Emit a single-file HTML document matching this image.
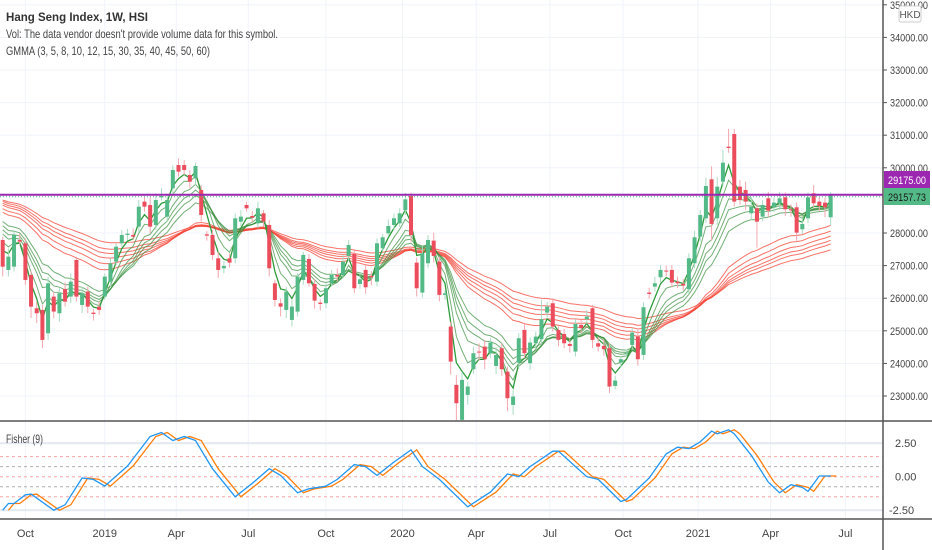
<!DOCTYPE html>
<html><head><meta charset="utf-8"><style>
html,body{margin:0;padding:0;background:#fff;}
svg{display:block;font-family:"Liberation Sans",sans-serif;}
</style></head><body>
<svg id="chart" width="932" height="550" viewBox="0 0 932 550" xmlns="http://www.w3.org/2000/svg">
<defs>
<clipPath id="mainClip"><rect x="0" y="0" width="883" height="421"/></clipPath>
<clipPath id="fishClip"><rect x="0" y="422" width="883" height="97"/></clipPath>
</defs>
<g id="grid"></g>
<g id="ema" clip-path="url(#mainClip)"></g>
<g id="candles" clip-path="url(#mainClip)"></g>
<g id="fisher" clip-path="url(#fishClip)"></g>
<g id="axes"></g>
<g>
<text x="6" y="21" font-size="12" fill="#333" font-weight="bold" textLength="142" lengthAdjust="spacingAndGlyphs">Hang Seng Index, 1W, HSI</text>
<text x="6" y="38" font-size="12" fill="#444" textLength="272" lengthAdjust="spacingAndGlyphs">Vol: The data vendor doesn't provide volume data for this symbol.</text>
<text x="6" y="55" font-size="12" fill="#444" textLength="204" lengthAdjust="spacingAndGlyphs">GMMA (3, 5, 8, 10, 12, 15, 30, 35, 40, 45, 50, 60)</text>
<text x="6" y="443" font-size="12" fill="#444" textLength="37" lengthAdjust="spacingAndGlyphs">Fisher (9)</text>
</g>
</svg>
<script>
const opens=[27786,26866,26968,27786,27684,26713,25691,25640,24924,26049,25538,26284,26049,27173,25793,26202,25558,25742,26049,26508,27122,27684,27940,27940,28195,28961,28859,28246,29094,28502,29370,30085,30085,29779,29677,29319,27960,27940,27224,26917,27224,27224,28348,28859,28522,28297,28604,28246,26457,25844,25640,25333,25589,26560,27204,26437,25865,25845,26458,26713,26713,27296,27357,26437,26866,26683,26509,27531,27991,28246,28297,28706,29135,27091,26172,27071,27766,27122,26100,25129,23341,22268,23034,23821,24363,24516,24312,23923,24465,23750,22727,24026,25027,24005,24618,24741,25558,25845,25027,24904,24598,24363,25181,25354,25692,24618,24537,24465,23310,24026,24312,24567,24823,24261,26172,26356,26642,26847,26867,26509,26438,26274,27072,27889,28451,29647,28451,29575,30648,31037,29422,29320,28604,28758,28502,29064,28788,28911,29095,28727,28788,28114,28451,29218,28962,28931,28482];
const closes=[26968,27275,27940,27735,26560,25742,25538,24720,26457,25589,26151,25895,26508,26049,26151,25742,25517,25640,26662,27070,27582,27940,27980,27888,28808,28808,28195,29012,29135,29012,29932,29881,29932,29574,30055,28553,27919,27326,26866,26989,27091,28450,28502,28757,28471,28757,28348,26917,25946,25742,26202,25742,26662,27327,26458,25926,25824,26305,26713,26662,27122,27633,26305,26580,26335,26642,27684,27868,28216,28451,28604,29033,27940,26305,27378,27786,27296,26100,26151,24056,22779,23494,23290,24312,24332,24127,24639,24261,23821,22932,22983,24772,24312,24639,24823,25354,25742,25129,24721,24618,24536,25211,25079,25436,24721,24516,24435,23290,23474,24128,24333,24946,24128,25723,26131,26458,26867,26816,26479,26458,26387,27225,27869,28553,29442,28277,29422,30158,30607,28963,29013,28962,28809,28349,28860,28686,28931,29064,28727,28700,28012,28277,29095,28911,28829,28788,29157.73];
const wickUp=[100,250,150,200,150,120,200,150,200,150,150,200,250,100,200,150,120,150,100,150,100,150,150,200,200,150,250,200,250,150,150,200,150,150,100,150,100,150,200,150,150,150,200,100,150,200,100,150,100,150,150,200,100,100,150,150,100,150,150,200,200,150,150,200,150,150,150,100,200,150,150,200,100,150,250,150,250,150,100,150,300,250,150,200,250,200,150,250,150,150,200,150,200,150,150,600,150,150,100,150,150,150,150,200,100,200,200,150,150,100,100,150,200,150,150,200,150,150,150,150,150,150,200,150,250,400,300,400,550,150,200,250,300,150,150,200,150,200,150,150,150,150,150,250,150,150,100];
const wickDn=[300,200,150,100,150,350,300,250,200,200,250,150,200,150,250,200,200,150,100,150,100,100,150,100,150,150,200,150,100,150,150,150,150,200,200,200,150,150,250,150,150,150,150,100,150,150,150,250,200,300,250,200,150,150,100,250,200,150,100,150,100,150,150,150,200,250,150,100,100,150,100,150,200,250,150,150,200,200,150,400,1600,600,300,150,250,300,150,250,200,400,300,200,150,200,150,150,150,150,200,150,200,150,150,150,250,150,200,200,100,150,150,150,200,150,150,150,150,150,150,150,150,150,150,150,150,500,200,150,150,150,150,250,200,800,150,200,150,200,200,200,250,150,150,150,150,300,250];
const fastPeriods=[3,5,8,10,12,15];
const slowPeriods=[30,35,40,45,50,60];
const fastSeeds=[27950,28100,28250,28350,28450,28550];
const slowSeeds=[28750,28850,28950,29000,29050,29080];
const fisherWeek=[0,1,2,4,5,9,11,14,16,18,22,26,28,30,32,34,37,41,44,47,49,52,54,57,59,62,64,66,69,72,74,77,82,86,89,91,93,97,98,101,103,105,109,110,114,117,119,121,123,125,126,128,129,132,135,137,139,141,142,144,146];
const fisherVal=[-2.5,-2.0,-2.0,-1.35,-1.3,-2.5,-2.1,-0.1,-0.2,-0.7,0.8,3.0,3.3,2.7,3.0,2.7,0.6,-1.5,-0.5,0.6,0.1,-1.2,-0.9,-0.7,-0.2,0.9,0.75,0.1,1.1,2.0,0.75,-0.2,-2.25,-1.15,0.2,0,0.75,1.9,1.9,0.75,0,-0.2,-1.85,-1.7,-0.1,1.7,2.2,2.1,2.6,3.4,3.2,3.5,3.2,1.6,-0.4,-1.2,-0.6,-0.8,-1.1,0.05,0.05];
const priceTicks=[35000,34000,33000,32000,31000,30000,28000,27000,26000,25000,24000,23000];
const fisherTicks=[2.5,0,-2.5];
const timeLabels=["Oct","2019","Apr","Jul","Oct","2020","Apr","Jul","Oct","2021","Apr","Jul"];
const timeWeeks=[4,18,30.6,43.3,57,70.5,83.5,96.5,109.4,122.6,135.4,148.6];
const lastPrice=29157.73, hLine=29175;

const NS="http://www.w3.org/2000/svg";
function xOf(i){return 2.7+i*5.671;}
function yOf(p){return 233-(p-28000)*0.0326;}
function fy(v){return 476.7-v*13.4;}
function mk(tag,attrs,parent){const e=document.createElementNS(NS,tag);for(const k in attrs)e.setAttribute(k,attrs[k]);parent.appendChild(e);return e;}
const grid=document.getElementById('grid'),axes=document.getElementById('axes');
priceTicks.forEach(p=>{const l=mk('line',{x1:0,x2:883,y1:yOf(p),y2:yOf(p),stroke:'#f0f3fa','stroke-width':1},grid);

});
timeWeeks.forEach(w=>{const l=mk('line',{x1:xOf(w),x2:xOf(w),y1:0,y2:519,stroke:'#f0f3fa','stroke-width':1},grid);

});
const emaG=document.getElementById('ema');
function drawEma(n,seed,color,w){let e=seed,pts=[];for(let i=0;i<closes.length;i++){e=e+(closes[i]-e)*2/(n+1);pts.push(xOf(i).toFixed(1)+','+yOf(e).toFixed(1));}
const pl=mk('polyline',{points:pts.join(' '),fill:'none',stroke:color,'stroke-width':w},emaG);

}
slowPeriods.forEach((n,k)=>drawEma(n,slowSeeds[k],'rgba(244,67,54,0.75)',1));
fastPeriods.forEach((n,k)=>drawEma(n,fastSeeds[k],k==0?'#2e9c3a':'rgba(56,142,60,0.7)',k==0?1.3:1));
const cg=document.getElementById('candles');
for(let i=0;i<closes.length;i++){const o=opens[i],c=closes[i],up=c>=o;const x=xOf(i);
const hi=Math.max(o,c)+wickUp[i],lo=Math.min(o,c)-wickDn[i];
const col=up?'#53b987':'#eb4d5c',wc=up?'#a9dcc3':'#f5a6ae';
const wl=mk('line',{x1:x,x2:x,y1:yOf(hi),y2:yOf(lo),stroke:wc,'stroke-width':1},cg);


const top=yOf(Math.max(o,c)),h=Math.max(1,yOf(Math.min(o,c))-top);
const r=mk('rect',{x:x-2,y:top,width:4,height:h,fill:col},cg);

}
const hl=mk('line',{x1:0,x2:883,y1:yOf(hLine),y2:yOf(hLine),stroke:'#9c27b0','stroke-width':2},axes);


const pl2=mk('line',{x1:0,x2:883,y1:yOf(lastPrice)+1.5,y2:yOf(lastPrice)+1.5,stroke:'#53b987','stroke-width':1,'stroke-dasharray':'1,2'},axes);


const fg=document.getElementById('fisher');
[[1.5,'#f8a5a5'],[0.75,'#b0b0b0'],[0,'#f8a5a5'],[-0.75,'#b0b0b0'],[-1.5,'#f8a5a5']].forEach(a=>{const l=mk('line',{x1:0,x2:883,y1:fy(a[0]),y2:fy(a[0]),stroke:a[1],'stroke-dasharray':'3,3','stroke-width':1},fg);

});
[2.5,-2.5].forEach(v=>{const l=mk('line',{x1:0,x2:883,y1:fy(v),y2:fy(v),stroke:'#e3e9f1','stroke-width':2},fg);

});
const trig=fisherWeek.map((w,k)=>(xOf(w+1)).toFixed(1)+','+fy(fisherVal[k]).toFixed(1));
const fo=mk('polyline',{points:trig.join(' '),fill:'none',stroke:'#ff7f0e','stroke-width':1.3},fg);


const fpts=fisherWeek.map((w,k)=>xOf(w).toFixed(1)+','+fy(fisherVal[k]).toFixed(1));
const fb=mk('polyline',{points:fpts.join(' '),fill:'none',stroke:'#2196f3','stroke-width':1.3},fg);


[[0,421,932,421],[0,519,932,519],[883,0,883,550]].forEach(a=>{const l=mk('line',{x1:a[0],y1:a[1],x2:a[2],y2:a[3],stroke:'#555','stroke-width':1.5},axes);

});
priceTicks.forEach(p=>{const y=yOf(p);
const tk=mk('line',{x1:883,x2:887,y1:y,y2:y,stroke:'#555'},axes);


const t=mk('text',{x:890,y:y+4,'font-size':11,fill:'#444',textLength:38,lengthAdjust:'spacingAndGlyphs'},axes);t.textContent=p.toFixed(2);

});
fisherTicks.forEach(v=>{const y=fy(v);
const t=mk('text',{x:v<0?889:895,y:y+4,'font-size':11,fill:'#444'},axes);t.textContent=v.toFixed(2);

});
timeLabels.forEach((s,k)=>{const t=mk('text',{x:xOf(timeWeeks[k]),y:537,'font-size':11,fill:'#444','text-anchor':'middle'},axes);t.textContent=s;

});
const b1=mk('rect',{x:884,y:171,width:46,height:17,fill:'#9c27b0'},axes);


const t1=mk('text',{x:888,y:184,'font-size':11,fill:'#fff',textLength:38,lengthAdjust:'spacingAndGlyphs'},axes);t1.textContent=hLine.toFixed(2);


const b2=mk('rect',{x:884,y:188,width:46,height:17,fill:'#53b987'},axes);


const t2=mk('text',{x:888,y:201,'font-size':11,fill:'#1a1a1a',textLength:38,lengthAdjust:'spacingAndGlyphs'},axes);t2.textContent=lastPrice.toFixed(2);


const hb=mk('rect',{x:899,y:6,width:22,height:16,fill:'#fff',stroke:'#ccc',rx:2},axes);


const ht=mk('text',{x:910,y:18,'font-size':10,fill:'#555','text-anchor':'middle'},axes);ht.textContent='HKD';


</script>
</body></html>
